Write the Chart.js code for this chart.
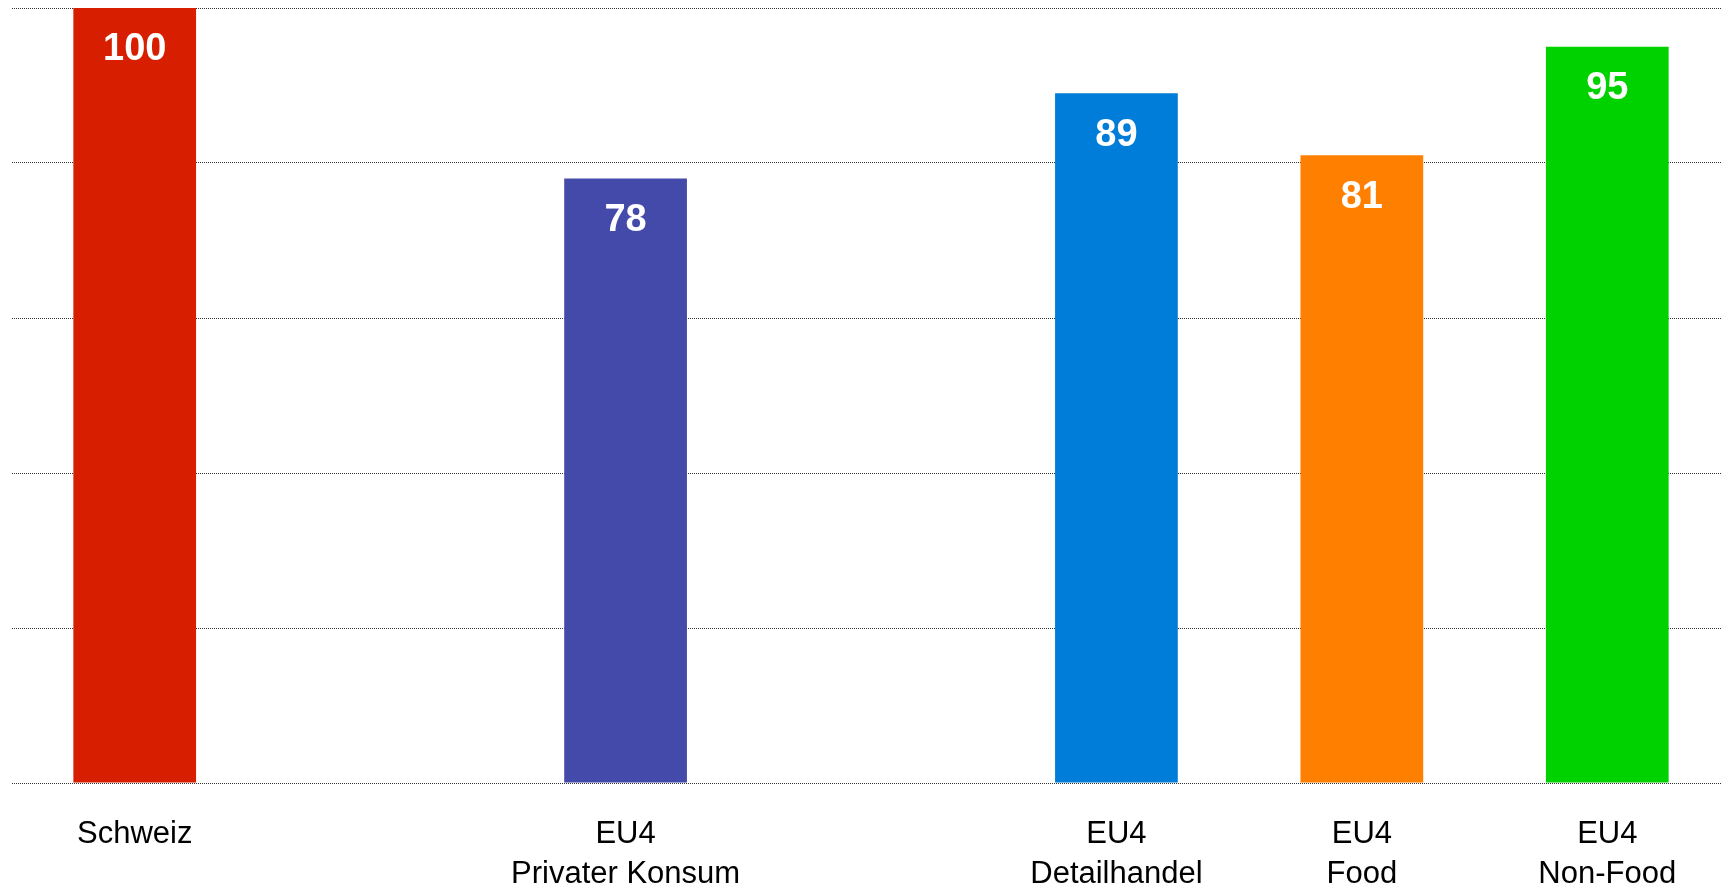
<!DOCTYPE html>
<html>
<head>
<meta charset="utf-8">
<script src="https://cdn.jsdelivr.net/npm/chart.js@4/dist/chart.umd.min.js"></script>
<style>
  html, body { margin: 0; padding: 0; background: #fff; overflow: hidden; }
  #wrap { width: 1740px; height: 886px; position: relative; }
</style>
</head>
<body>
<div id="wrap"><canvas id="chart"></canvas></div>
<script>
// Data (empty slots keep the gaps between the groups)
const categories = [
  'Schweiz',
  '',
  ['EU4', 'Privater Konsum'],
  '',
  ['EU4', 'Detailhandel'],
  ['EU4', 'Food'],
  ['EU4', 'Non-Food']
];
const values = [100, null, 78, null, 89, 81, 95];
const barColors = ['#D81E00', '#fff', '#434AA9', '#fff', '#007DD8', '#FF7F00', '#00D200'];
const yTicks = [0, 20, 40, 60, 80, 100];

// white value labels inside the top of each bar
const valueLabels = {
  id: 'valueLabels',
  afterDatasetsDraw(chart) {
    const ctx = chart.ctx;
    const meta = chart.getDatasetMeta(0);
    ctx.save();
    ctx.fillStyle = '#fff';
    ctx.font = 'bold 38px "Liberation Sans", Arial, sans-serif';
    ctx.textAlign = 'center';
    ctx.textBaseline = 'middle';
    meta.data.forEach((bar, i) => {
      if (values[i] == null) return;
      ctx.fillText(String(values[i]), bar.x, bar.y + 42);
    });
    ctx.restore();
  }
};

new Chart(document.getElementById('chart'), {
  type: 'bar',
  data: {
    labels: categories,
    datasets: [{
      data: values,
      backgroundColor: barColors,
      categoryPercentage: 1,
      barPercentage: 0.5
    }]
  },
  options: {
    responsive: true,
    maintainAspectRatio: false,
    animation: false,
    layout: { padding: { left: 12, top: 8, right: 10, bottom: 0 } },
    plugins: {
      legend: { display: false },
      tooltip: { enabled: false }
    },
    scales: {
      x: {
        grid: { display: false },
        border: { display: false },
        ticks: {
          color: '#000',
          padding: 24,
          maxRotation: 0,
          autoSkip: false,
          font: { family: '"Liberation Sans", Arial, sans-serif', size: 31, lineHeight: 1.28 }
        },
        afterFit(scale) { scale.height = 103; }
      },
      y: {
        min: 0,
        max: 100,
        afterBuildTicks(scale) { scale.ticks = yTicks.map(v => ({ value: v })); },
        ticks: { display: false },
        border: { display: false, dash: [1, 1] },
        grid: {
          color: '#333',
          lineWidth: 1,
          drawTicks: false
        },
        afterFit(scale) { scale.width = 0; }
      }
    }
  },
  plugins: [valueLabels]
});
</script>
</body>
</html>
